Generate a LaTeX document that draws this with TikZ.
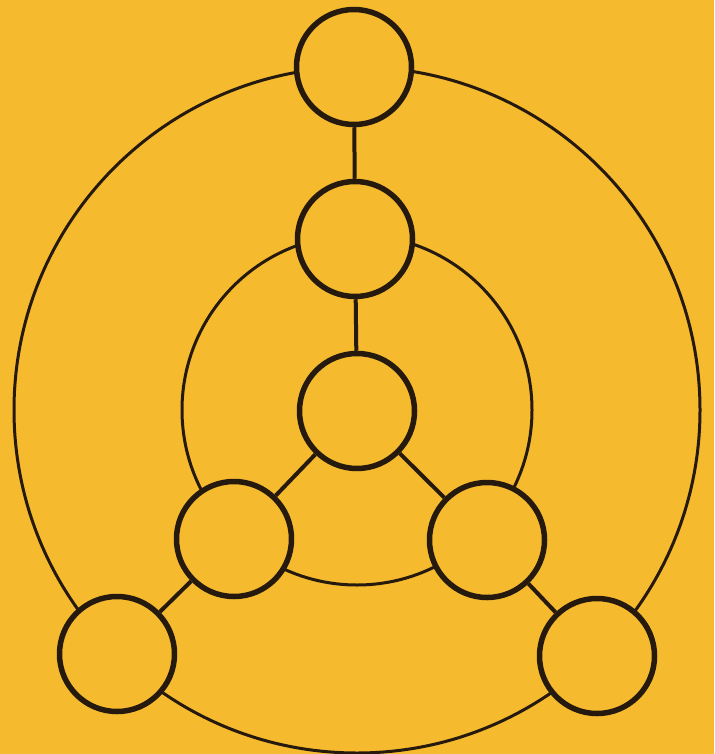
\documentclass[tikz,border=0pt]{standalone}
\usetikzlibrary{backgrounds}
\definecolor{bg}{RGB}{245,186,46}
\definecolor{ink}{RGB}{38,26,14}
\begin{document}
\begin{tikzpicture}[x=1pt,y=-1pt,
  nodecirc/.style={circle, draw=ink, line width=5.5pt, fill=bg, minimum size=115pt, inner sep=0pt},
  ring/.style={draw=ink, line width=3pt},
  link/.style={draw=ink, line width=4pt}]
\useasboundingbox (0,0) rectangle (714,754);
\node[nodecirc] (n1) at (354,67) {};
\node[nodecirc] (n2) at (355,239) {};
\node[nodecirc] (n3) at (357,411) {};
\node[nodecirc] (n4) at (234,539) {};
\node[nodecirc] (n5) at (487,540) {};
\node[nodecirc] (n6) at (117,654) {};
\node[nodecirc] (n7) at (597,656) {};
\coordinate (O) at (357,410);
\begin{scope}[on background layer]
  \fill[bg] (0,0) rectangle (714,754);
  \draw[ring] (O) circle[radius=343];
  \draw[ring] (O) circle[radius=175];
  \draw[link] (n1) -- (n2);
  \draw[link] (n2) -- (n3);
  \draw[link] (n3) -- (n4);
  \draw[link] (n3) -- (n5);
  \draw[link] (n4) -- (n6);
  \draw[link] (n5) -- (n7);
\end{scope}
\end{tikzpicture}
\end{document}
